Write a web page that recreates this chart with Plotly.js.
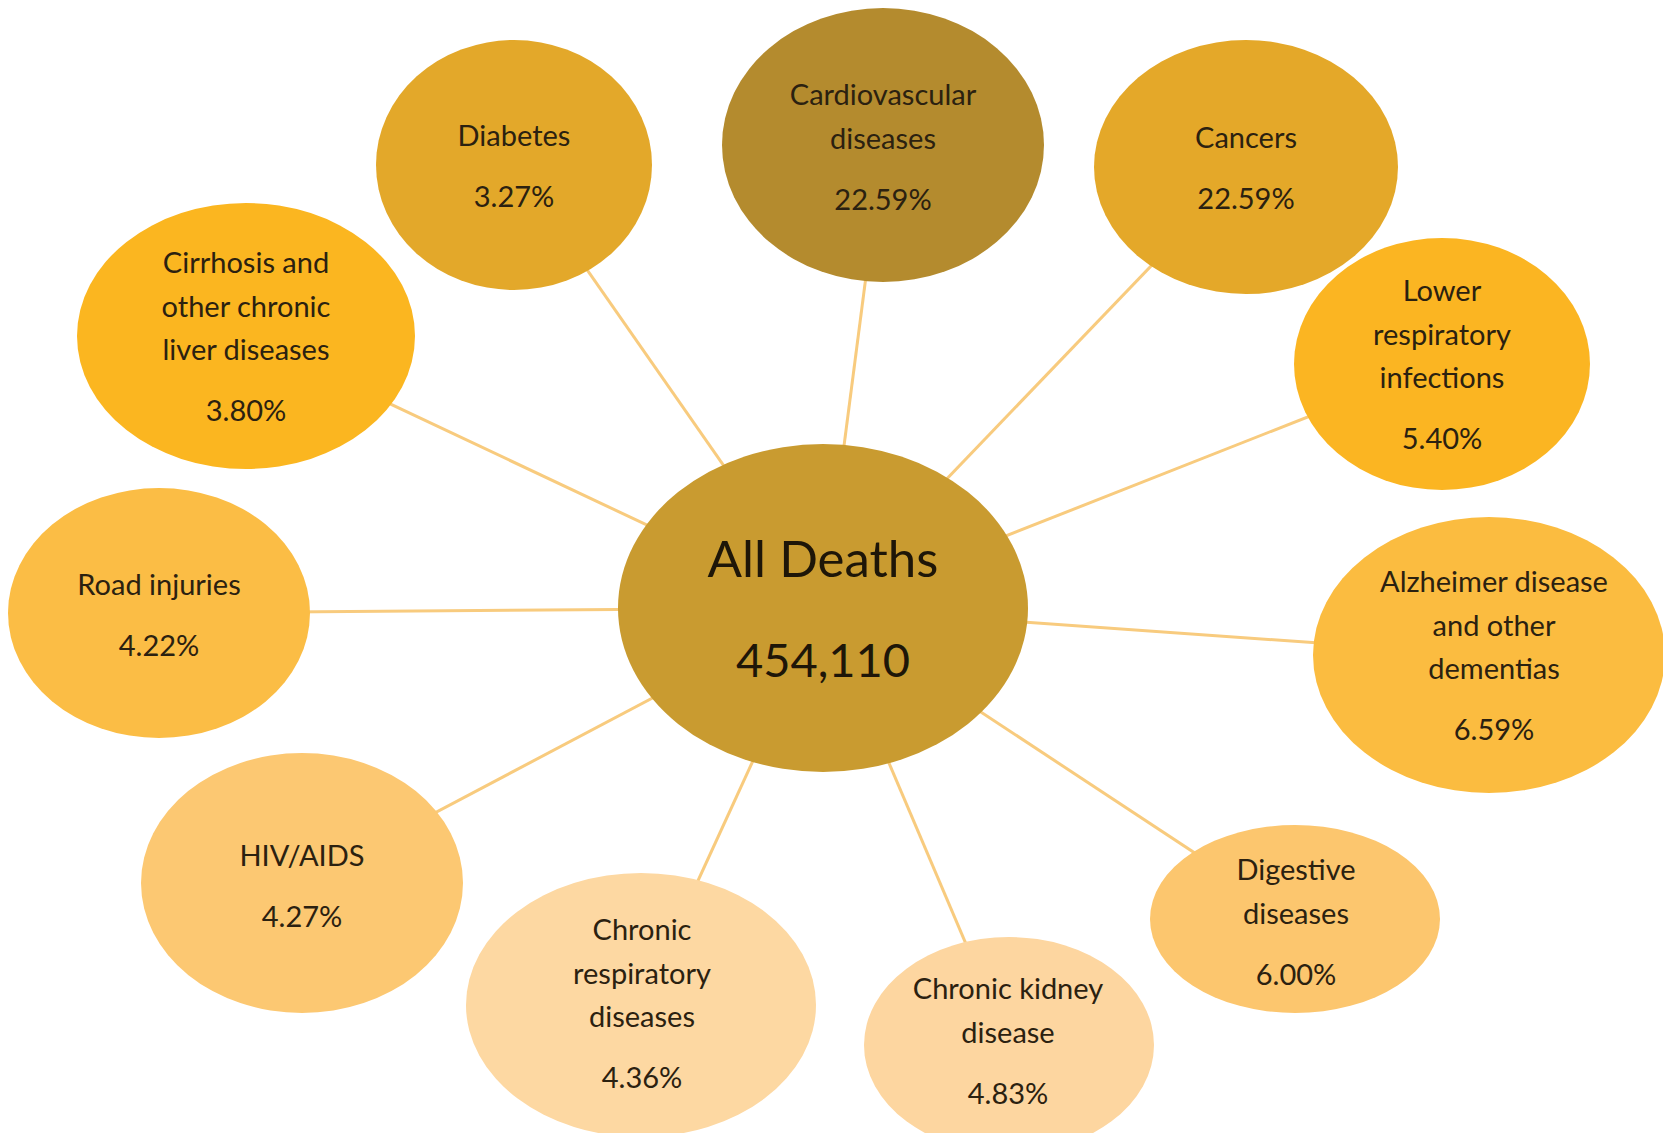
<!DOCTYPE html>
<html>
<head>
<meta charset="utf-8">
<script src="https://cdn.plot.ly/plotly-3.0.1.min.js"></script>
<style>
html,body{margin:0;padding:0;background:#fff;}
#chart{width:1663px;height:1133px;}
</style>
</head>
<body>
<div id="chart"></div>
<script>
// ---- data ----
const totalLabel = "All Deaths";
const totalDeaths = 454110;
const categories = [
  "Cardiovascular\ndiseases",
  "Cancers",
  "Lower\nrespiratory\ninfections",
  "Alzheimer disease\nand other\ndementias",
  "Digestive\ndiseases",
  "Chronic kidney\ndisease",
  "Chronic\nrespiratory\ndiseases",
  "HIV/AIDS",
  "Road injuries",
  "Cirrhosis and\nother chronic\nliver diseases",
  "Diabetes"
];
const shares = [22.59, 22.59, 5.40, 6.59, 6.00, 4.83, 4.36, 4.27, 4.22, 3.80, 3.27];

// ---- layout (pixel positions of bubbles) ----
const hub = {cx: 823, cy: 608, rx: 205, ry: 164, color: "#C99B30"};
const bubbleCX = [883, 1246, 1442, 1489, 1295, 1009, 641, 302, 159, 246, 514];
const bubbleCY = [145, 167, 364, 655, 919, 1045, 1005, 883, 613, 336, 165];
const bubbleRX = [161, 152, 148, 176, 145, 145, 175, 161, 151, 169, 138];
const bubbleRY = [137, 127, 126, 138, 94, 108, 132, 130, 125, 133, 125];
const bubbleColor = ["#B48B2E", "#E4A829", "#FBB522", "#FBBC40", "#FCC66E", "#FDD6A0",
                     "#FDD8A2", "#FCC872", "#FBBD45", "#FBB620", "#E3A82A"];
const labelX = [883, 1246, 1442, 1494, 1296, 1008, 642, 302, 159, 246, 514];
const firstLineY = [98, 141, 294, 585, 873, 992, 933, 859, 588, 266, 139];
const lineGap = 43.5;
const pctGap = 61;

const shapes = [];
// spokes
for (let i = 0; i < categories.length; i++) {
  shapes.push({type: "line", layer: "below", xref: "x", yref: "y",
    x0: hub.cx, y0: hub.cy, x1: bubbleCX[i], y1: bubbleCY[i],
    line: {color: "#F8CB7E", width: 3}});
}
// bubbles
for (let i = 0; i < categories.length; i++) {
  shapes.push({type: "circle", layer: "below", xref: "x", yref: "y",
    x0: bubbleCX[i] - bubbleRX[i], x1: bubbleCX[i] + bubbleRX[i],
    y0: bubbleCY[i] - bubbleRY[i], y1: bubbleCY[i] + bubbleRY[i],
    fillcolor: bubbleColor[i], line: {width: 0}});
}
shapes.push({type: "circle", layer: "below", xref: "x", yref: "y",
  x0: hub.cx - hub.rx, x1: hub.cx + hub.rx, y0: hub.cy - hub.ry, y1: hub.cy + hub.ry,
  fillcolor: hub.color, line: {width: 0}});

// labels
const tx = [], ty = [], tt = [];
for (let i = 0; i < categories.length; i++) {
  const lines = categories[i].split("\n");
  lines.forEach((ln, k) => {
    tx.push(labelX[i]); ty.push(firstLineY[i] + k * lineGap); tt.push(ln);
  });
  tx.push(labelX[i]);
  ty.push(firstLineY[i] + (lines.length - 1) * lineGap + pctGap);
  tt.push(shares[i].toFixed(2) + "%");
}

const traces = [
  {type: "scatter", mode: "text", x: tx, y: ty, text: tt, hoverinfo: "skip",
   textposition: "middle center",
   textfont: {family: "Lato, 'Open Sans', sans-serif", size: 29, color: "#2B2110"}},
  {type: "scatter", mode: "text", x: [hub.cx], y: [564],
   text: [totalLabel], hoverinfo: "skip", textposition: "middle center",
   textfont: {family: "Lato, 'Open Sans', sans-serif", size: 51, color: "#1E1608"}},
  {type: "scatter", mode: "text", x: [hub.cx], y: [665],
   text: [totalDeaths.toLocaleString("en-US")], hoverinfo: "skip", textposition: "middle center",
   textfont: {family: "Lato, 'Open Sans', sans-serif", size: 47, color: "#1E1608"}}
];

const layout = {
  width: 1663, height: 1133,
  margin: {l: 0, r: 0, t: 0, b: 0, pad: 0},
  paper_bgcolor: "#FFFFFF", plot_bgcolor: "#FFFFFF",
  showlegend: false,
  xaxis: {range: [0, 1663], autorange: false, visible: false, fixedrange: true},
  yaxis: {range: [1133, 0], autorange: false, visible: false, fixedrange: true},
  shapes: shapes
};

Plotly.newPlot("chart", traces, layout, {staticPlot: true, displayModeBar: false});
</script>
</body>
</html>
